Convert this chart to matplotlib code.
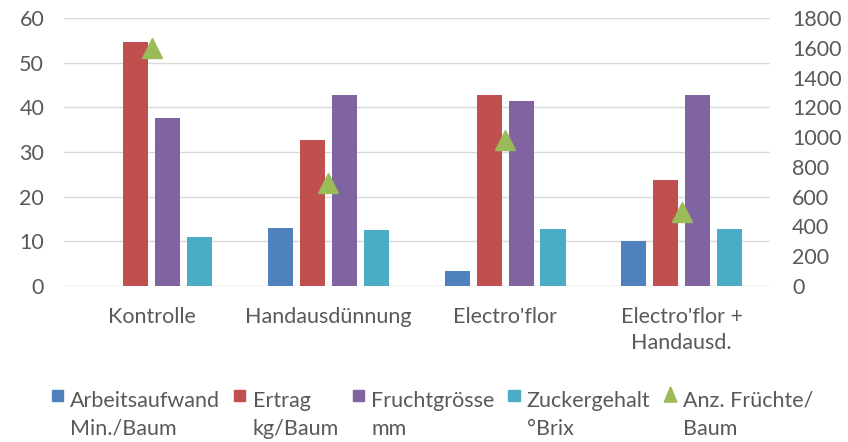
import matplotlib.pyplot as plt
import matplotlib.patches as mpatches
from matplotlib.legend_handler import HandlerPatch
import numpy as np

plt.rcParams['font.family'] = ['Lato', 'DejaVu Sans']

categories = ["Kontrolle", "Handausdünnung", "Electro'flor", "Electro'flor +\nHandausd."]
arbeit = [0, 13, 3.3, 10]
ertrag = [54.7, 32.7, 42.8, 23.7]
frucht = [37.7, 42.7, 41.5, 42.7]
zucker = [11, 12.5, 12.8, 12.8]
fruechte = [1600, 690, 980, 500]

series_names = ["Arbeitsaufwand\nMin./Baum", "Ertrag\nkg/Baum", "Fruchtgrösse\nmm", "Zuckergehalt\n°Brix"]
line_name = "Anz. Früchte/\nBaum"
colors = ["#4F81BD", "#C0504D", "#8064A2", "#4BACC6"]
tri_color = "#9BBB59"
txt = "#595959"
fs = 15.5

fig = plt.figure(figsize=(8.48, 4.42), dpi=100)
ax = fig.add_axes([0.075, 0.353, 0.833, 0.606])
ax2 = ax.twinx()

x = np.arange(len(categories))
pitch = 0.181
width = 0.142
for i, (vals, c) in enumerate(zip([arbeit, ertrag, frucht, zucker], colors)):
    ax.bar(x + (i - 1.5) * pitch, vals, width, color=c, zorder=3)

ax2.plot(x, fruechte, linestyle='none', marker='^', markersize=14,
         color=tri_color, zorder=4)

ax.set_xlim(-0.5, 3.5)
ax.set_ylim(0, 60)
ax.set_yticks(range(0, 61, 10))
ax2.set_ylim(0, 1800)
ax2.set_yticks(range(0, 1801, 200))
ax.set_xticks(x)
ax.set_xticklabels(categories, color=txt, fontsize=fs, linespacing=1.4)
ax.grid(axis='y', color='#D9D9D9', linewidth=1, zorder=0)
for a in (ax, ax2):
    for s in a.spines.values():
        s.set_visible(False)
    a.tick_params(length=0, labelsize=fs, colors=txt)
ax.tick_params(axis='x', pad=15)
ax.tick_params(axis='y', pad=14)
ax2.tick_params(axis='y', pad=16)
ax.axhline(0, color='#D9D9D9', linewidth=1, zorder=2)


# legend handles sit on the first text line
shift = 16


def square(legend, orig_handle, xdescent, ydescent, width, height, fontsize):
    return mpatches.Rectangle((-xdescent, -ydescent + shift), 8, 8)


def triangle(legend, orig_handle, xdescent, ydescent, width, height, fontsize):
    x0 = -xdescent
    y0 = -ydescent + shift - 1
    return mpatches.Polygon([[x0, y0], [x0 + 9, y0], [x0 + 4.5, y0 + 11]], closed=True)


handles = [mpatches.Patch(color=c) for c in colors] + [mpatches.Patch(color=tri_color)]
hmap = {h: HandlerPatch(patch_func=square) for h in handles[:4]}
hmap[handles[4]] = HandlerPatch(patch_func=triangle)

leg = fig.legend(handles=handles, labels=series_names + [line_name], loc='upper center',
                 bbox_to_anchor=(0.51, 0.135), ncol=5, frameon=False, fontsize=fs,
                 handlelength=0.55, handletextpad=0.3, columnspacing=0.65,
                 labelcolor=txt, borderaxespad=0, handler_map=hmap)
for t in leg.get_texts():
    t.set_linespacing(1.5)

fig.savefig("out.png", dpi=100)
